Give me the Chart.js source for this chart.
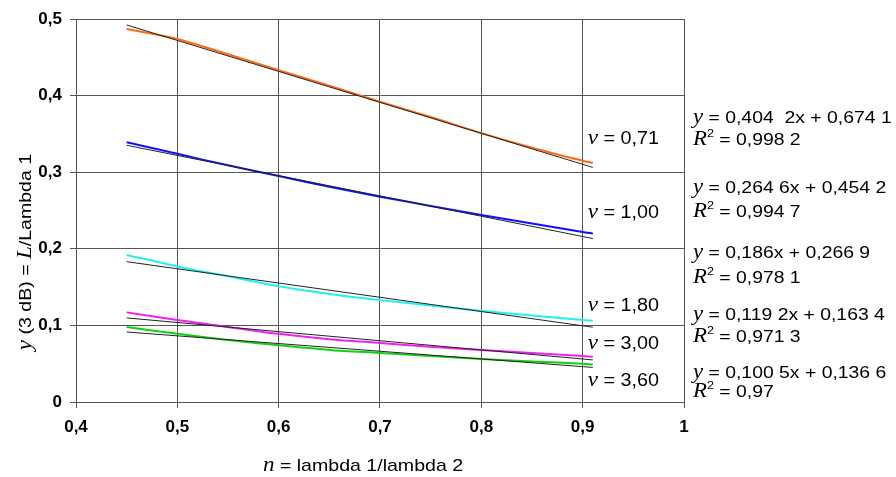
<!DOCTYPE html>
<html>
<head>
<meta charset="utf-8">
<script src="https://cdn.jsdelivr.net/npm/chart.js@4.4.1/dist/chart.umd.min.js"></script>
<style>
  html, body { margin: 0; padding: 0; background: #fff; }
</style>
</head>
<body>
<canvas id="chart" width="896" height="477"></canvas>
<script>
// n = lambda1/lambda2 sample points
const nValues = [0.45, 0.5, 0.55, 0.6, 0.65, 0.7, 0.75, 0.8, 0.85, 0.9, 0.91]

// measured y(3 dB) = L/lambda1 for each v
const y071 = [0.487, 0.474, 0.454, 0.433, 0.413, 0.392, 0.372, 0.351, 0.332, 0.315, 0.312]
const y100 = [0.339, 0.324, 0.309, 0.295, 0.281, 0.268, 0.256, 0.244, 0.233, 0.222, 0.220]
const y180 = [0.192, 0.177, 0.164, 0.151, 0.141, 0.133, 0.126, 0.119, 0.113, 0.107, 0.106]
const y300 = [0.117, 0.107, 0.098, 0.089, 0.082, 0.077, 0.072, 0.068, 0.064, 0.060, 0.059]
const y360 = [0.098, 0.089, 0.081, 0.074, 0.068, 0.064, 0.060, 0.056, 0.053, 0.050, 0.049]

const vLabels = ['0,71', '1,00', '1,80', '3,00', '3,60']
const vLabelY = [0.345, 0.248, 0.127, 0.077, 0.029]
const curveColors = ['#ff6a10', '#1010ff', '#20f0f0', '#f020f0', '#10d010']

// linear trend lines y = slope*x + intercept
const slopes = [-0.4042, -0.2646, -0.186, -0.1192, -0.1005]
const intercepts = [0.6741, 0.4542, 0.2669, 0.1634, 0.1366]
const slopeText = ['0,404  2', '0,264 6', '0,186', '0,119 2', '0,100 5']
const interceptText = ['0,674 1', '0,454 2', '0,266 9', '0,163 4', '0,136 6']
const r2Text = ['0,998 2', '0,994 7', '0,978 1', '0,971 3', '0,97']
const eqLabelY = [0.364, 0.273, 0.188, 0.107, 0.031]
const r2LabelY = [0.336, 0.242, 0.155, 0.078, 0.006]
const fitRange = [0.45, 0.91]

const SANS = '"Liberation Sans", Arial, sans-serif'
const SERIF = '"Liberation Serif", "Times New Roman", serif'
const sans = (s) => s + 'px ' + SANS
const ital = (s) => 'italic ' + s + 'px ' + SERIF

const measured = [y071, y100, y180, y300, y360]

const datasets = []
measured.forEach((ys, i) => {
  datasets.push({
    data: nValues.map((x, j) => ({ x, y: ys[j] })),
    borderColor: curveColors[i],
    borderWidth: 2,
    pointRadius: 0,
    showLine: true,
    tension: 0.3,
    order: 2
  })
})
slopes.forEach((m, i) => {
  datasets.push({
    data: fitRange.map(x => ({ x, y: m * x + intercepts[i] })),
    borderColor: '#222',
    borderWidth: 1,
    pointRadius: 0,
    showLine: true,
    order: 1
  })
})

const fmt = (v) => {
  const r = Math.round(v * 10) / 10
  return (r === 0 || r === 1) ? String(r) : r.toFixed(1).replace('.', ',')
}

// draws a run of differently styled text pieces
function richWidth (ctx, segs) {
  let w = 0
  segs.forEach(s => { ctx.font = s.font; w += ctx.measureText(s.t).width })
  return w
}
function drawRich (ctx, x, y, segs, sx) {
  ctx.save()
  ctx.translate(x, y)
  ctx.scale(sx, 1)
  ctx.fillStyle = '#000'
  ctx.textBaseline = 'alphabetic'
  ctx.textAlign = 'left'
  let cx = 0
  segs.forEach(s => {
    ctx.font = s.font
    ctx.fillText(s.t, cx, s.dy || 0)
    cx += ctx.measureText(s.t).width
  })
  ctx.restore()
}

const annotations = {
  id: 'annotations',
  afterDraw (chart) {
    const { ctx, chartArea, scales } = chart
    const xs = scales.x
    const ys = scales.y

    // v labels inside the plot
    vLabels.forEach((t, i) => {
      drawRich(ctx, xs.getPixelForValue(0.905), ys.getPixelForValue(vLabelY[i]) + 6, [
        { t: 'v', font: ital(21) },
        { t: ' = ' + t, font: sans(18) }
      ], 1.1)
    })

    // trend line equations to the right
    slopes.forEach((m, i) => {
      const ex = chartArea.right + 9
      drawRich(ctx, ex, ys.getPixelForValue(eqLabelY[i]), [
        { t: 'y', font: ital(20) },
        { t: ' = ' + slopeText[i] + 'x + ' + interceptText[i], font: sans(17) }
      ], 1.14)
      drawRich(ctx, ex, ys.getPixelForValue(r2LabelY[i]), [
        { t: 'R', font: ital(20) },
        { t: '2', font: sans(11), dy: -8 },
        { t: ' = ' + r2Text[i], font: sans(17) }
      ], 1.14)
    })

    // axis titles
    const xt = [
      { t: 'n', font: ital(20) },
      { t: ' = lambda 1/lambda 2', font: sans(17) }
    ]
    drawRich(ctx, 263, 471, xt, 1.15)

    const yt = [
      { t: 'y', font: ital(20) },
      { t: ' (3 dB) = ', font: sans(17) },
      { t: 'L', font: ital(20) },
      { t: '/Lambda 1', font: sans(17) }
    ]
    const w = richWidth(ctx, yt) * 1.15
    ctx.save()
    ctx.translate(31, 252)
    ctx.rotate(-Math.PI / 2)
    drawRich(ctx, -w / 2, 0, yt, 1.15)
    ctx.restore()
  }
}

const tickFont = { family: SANS, size: 17, weight: 'bold' }

new Chart(document.getElementById('chart'), {
  type: 'scatter',
  data: { datasets },
  options: {
    responsive: false,
    animation: false,
    devicePixelRatio: 1,
    layout: { padding: { top: 19, right: 212, left: 0, bottom: 0 } },
    plugins: { legend: { display: false }, tooltip: { enabled: false } },
    scales: {
      x: {
        type: 'linear',
        min: 0.4,
        max: 1,
        ticks: { stepSize: 0.1, callback: fmt, color: '#000', font: tickFont, padding: 9 },
        grid: { color: '#555', lineWidth: 1, tickLength: 6 },
        border: { color: '#555' },
        afterFit: (s) => { s.height = 75 }
      },
      y: {
        min: 0,
        max: 0.5,
        ticks: { stepSize: 0.1, callback: fmt, color: '#000', font: tickFont, padding: 8 },
        grid: { color: '#555', lineWidth: 1, tickLength: 6 },
        border: { color: '#555' },
        afterFit: (s) => { s.width = 76 }
      }
    }
  },
  plugins: [annotations]
})
</script>
</body>
</html>
